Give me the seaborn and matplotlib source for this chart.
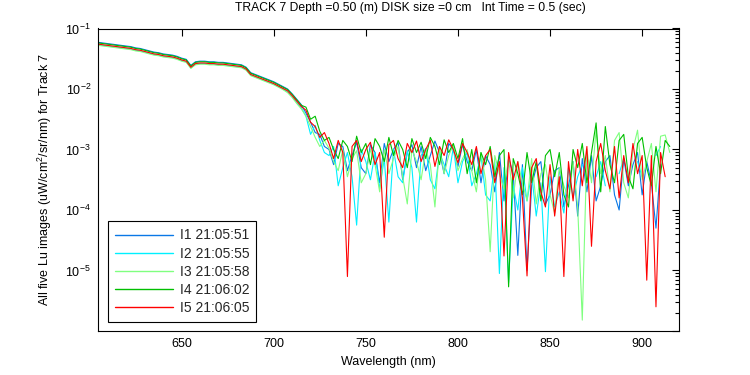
import numpy as np
import pandas as pd
import matplotlib
matplotlib.use("Agg")
import matplotlib.pyplot as plt
from matplotlib.lines import Line2D
from matplotlib.ticker import FixedLocator, LogLocator, NullFormatter, FuncFormatter
import seaborn as sns

# ---------------- data ----------------
wavelength_nm = [
    605.0, 607.5, 610.0, 612.5, 615.0, 617.5, 620.0, 622.5, 625.0, 627.5,
    630.0, 632.5, 635.0, 637.5, 640.0, 642.5, 645.0, 647.5, 650.0, 652.5,
    655.0, 657.5, 660.0, 662.5, 665.0, 667.5, 670.0, 672.5, 675.0, 677.5,
    680.0, 682.5, 685.0, 687.5, 690.0, 692.5, 695.0, 697.5, 700.0, 702.5,
    705.0, 707.5, 710.0, 712.5, 715.0, 717.5, 720.0, 722.5, 725.0, 727.5,
    730.0, 732.5, 735.0, 737.5, 740.0, 742.5, 745.0, 747.5, 750.0, 752.5,
    755.0, 757.5, 760.0, 762.5, 765.0, 767.5, 770.0, 772.5, 775.0, 777.5,
    780.0, 782.5, 785.0, 787.5, 790.0, 792.5, 795.0, 797.5, 800.0, 802.5,
    805.0, 807.5, 810.0, 812.5, 815.0, 817.5, 820.0, 822.5, 825.0, 827.5,
    830.0, 832.5, 835.0, 837.5, 840.0, 842.5, 845.0, 847.5, 850.0, 852.5,
    855.0, 857.5, 860.0, 862.5, 865.0, 867.5, 870.0, 872.5, 875.0, 877.5,
    880.0, 882.5, 885.0, 887.5, 890.0, 892.5, 895.0, 897.5, 900.0, 902.5,
    905.0, 907.5, 910.0, 912.5, 915.0,
]

nan = float("nan")

# log10 of Lu (uW/cm^2/sr/nm), one value per wavelength
i1_log10 = [
    -1.23, -1.24, -1.25, -1.26, -1.27, -1.28, -1.29, -1.30, -1.32, -1.33,
    -1.35, -1.37, -1.39, -1.40, -1.42, -1.43, -1.44, -1.46, -1.49, -1.51,
    -1.61, -1.55, -1.54, -1.54, -1.55, -1.55, -1.56, -1.56, -1.57, -1.58,
    -1.59, -1.60, -1.64, -1.73, -1.76, -1.79, -1.82, -1.85, -1.88, -1.92,
    -1.96, -2.00, -2.08, -2.17, -2.26, -2.40, -2.55, -2.72, -2.75, -2.95,
    -3.00, -3.25, -2.90, -2.95, -3.35, -3.10, -2.88, -3.30, -3.40, -2.92,
    -3.05, -3.55, -2.90, -3.20, -3.00, -2.88, -3.50, -3.05, -2.92, -3.30,
    -2.95, -3.35, -3.10, -2.86, -3.05, -3.40, -2.90, -3.00, -3.28, -2.92,
    -3.20, -3.35, -3.00, -3.55, -3.10, -3.25, -3.70, -3.05, -3.85, -3.15,
    -3.40, -4.75, -3.25, -5.00, -3.60, -3.30, -3.20, -3.90, -3.75, -3.35,
    -3.30, -3.95, -3.60, -3.20, -4.10, -3.15, -3.70, -3.10, -3.85, -3.60,
    -3.20, -3.10, -3.75, -4.00, -3.15, -3.60, -3.25, -3.05, -3.75, -3.20,
    -3.55, -4.30, -3.25, nan, nan,
]
i2_log10 = [
    -1.27, -1.28, -1.29, -1.30, -1.31, -1.32, -1.33, -1.34, -1.36, -1.37,
    -1.39, -1.41, -1.43, -1.44, -1.46, -1.47, -1.48, -1.50, -1.53, -1.55,
    -1.65, -1.59, -1.58, -1.58, -1.59, -1.59, -1.60, -1.60, -1.61, -1.62,
    -1.63, -1.64, -1.68, -1.77, -1.80, -1.83, -1.86, -1.89, -1.92, -1.96,
    -2.00, -2.05, -2.13, -2.22, -2.31, -2.45, -2.75, -2.60, -2.85, -3.05,
    -3.10, -2.95, -3.60, -3.30, -3.05, -3.45, -4.25, -3.00, -3.20, -3.50,
    -3.05, -3.65, -3.15, -4.20, -3.00, -3.45, -3.55, -3.02, -3.30, -4.20,
    -3.10, -2.98, -3.50, -3.65, -3.05, -3.25, -3.45, -2.96, -3.55, -3.20,
    -3.05, -3.60, -3.40, -3.10, -3.75, -3.85, -3.20, -5.05, -3.30, -5.20,
    -3.60, -4.00, -3.30, -3.85, -3.40, -4.10, -3.55, -5.02, -3.45, -3.95,
    -3.70, -4.05, -3.30, -3.80, -3.45, -3.25, nan, nan, -3.45, -3.20,
    -3.60, nan, nan, -3.40, -3.15, nan, nan, -3.20, -3.45, nan,
    nan, -3.10, -2.95, nan, nan,
]
i3_log10 = [
    -1.28, -1.29, -1.30, -1.31, -1.32, -1.33, -1.34, -1.35, -1.37, -1.38,
    -1.40, -1.42, -1.44, -1.45, -1.47, -1.48, -1.49, -1.51, -1.54, -1.56,
    -1.66, -1.60, -1.59, -1.59, -1.60, -1.60, -1.61, -1.61, -1.62, -1.63,
    -1.64, -1.65, -1.69, -1.78, -1.81, -1.84, -1.87, -1.90, -1.93, -1.97,
    -2.01, -2.06, -2.14, -2.24, -2.33, -2.45, -2.62, -2.80, -2.95, -2.85,
    -2.98, -3.20, -3.35, -3.00, -3.45, -3.15, -3.02, -3.55, -3.40, -3.00,
    -3.25, -3.70, -3.00, -3.40, -3.15, -2.95, -3.45, -3.90, -3.00, -3.20,
    -3.50, -3.00, -3.25, -3.95, -2.95, -3.40, -3.10, -2.92, -3.35, -3.15,
    -3.00, -3.35, -3.70, -3.05, -3.50, -4.69, -3.10, -3.40, -3.65, -3.15,
    -3.80, -3.20, -3.55, -3.85, -3.15, -3.90, -3.40, -3.25, -3.75, -4.05,
    -3.30, -3.60, -3.80, -3.20, -3.95, -5.82, -3.00, -3.55, -2.68, -3.40,
    -3.10, -3.70, -2.85, -2.72, -3.55, -3.80, -3.00, -2.68, -3.50, -3.20,
    -2.90, -3.70, -2.78, -2.76, -3.05,
]
i4_log10 = [
    -1.24, -1.25, -1.26, -1.27, -1.28, -1.29, -1.30, -1.31, -1.33, -1.34,
    -1.36, -1.38, -1.40, -1.41, -1.43, -1.44, -1.45, -1.47, -1.50, -1.52,
    -1.62, -1.56, -1.55, -1.55, -1.56, -1.56, -1.57, -1.57, -1.58, -1.59,
    -1.60, -1.61, -1.65, -1.74, -1.77, -1.80, -1.83, -1.86, -1.89, -1.93,
    -1.97, -2.01, -2.09, -2.18, -2.27, -2.30, -2.50, -2.45, -2.70, -2.85,
    -2.80, -3.00, -3.15, -2.85, -2.95, -3.20, -2.78, -3.05, -2.90, -3.25,
    -2.82, -2.95, -3.20, -2.80, -3.10, -2.85, -3.00, -3.30, -2.82, -3.05,
    -2.88, -3.15, -2.80, -2.95, -3.25, -2.84, -3.05, -2.90, -3.15, -2.82,
    -3.40, -3.00, -3.55, -3.05, -3.25, -2.95, -3.45, -3.10, -3.00, -5.27,
    -3.15, -3.40, -3.75, -3.05, -3.55, -3.20, -3.85, -3.10, -3.00, -3.45,
    -3.05, -3.75, -3.95, -3.00, -3.30, -2.90, -3.55, -3.05, -2.56, -3.70,
    -2.62, -3.25, -3.55, -2.85, -2.75, -3.45, -3.65, -2.90, -2.80, -3.30,
    -3.60, -2.95, -3.40, -2.85, -2.95,
]
i5_log10 = [
    -1.26, -1.27, -1.28, -1.29, -1.30, -1.31, -1.32, -1.33, -1.35, -1.36,
    -1.38, -1.40, -1.42, -1.43, -1.45, -1.46, -1.47, -1.49, -1.52, -1.54,
    -1.64, -1.58, -1.57, -1.57, -1.58, -1.58, -1.59, -1.59, -1.60, -1.61,
    -1.62, -1.63, -1.67, -1.76, -1.79, -1.82, -1.85, -1.88, -1.91, -1.95,
    -1.99, -2.03, -2.11, -2.20, -2.29, -2.35, -2.55, -2.62, -2.80, -2.72,
    -2.90, -3.15, -2.85, -3.05, -5.10, -2.95, -2.85, -3.20, -3.00, -2.88,
    -3.25, -3.05, -4.45, -2.92, -2.85, -3.15, -3.30, -2.90, -3.05, -2.86,
    -3.20, -3.00, -2.85, -3.28, -2.95, -3.10, -2.84, -3.00, -3.22, -2.90,
    -3.05, -3.25, -2.95, -3.40, -3.10, -3.00, -3.55, -3.20, -4.76, -3.05,
    -3.50, -3.20, -3.80, -5.09, -3.30, -3.15, -3.70, -3.95, -3.25, -4.10,
    -3.45, -5.10, -3.20, -3.85, -3.00, -3.60, -2.95, -4.60, -3.20, -2.90,
    -3.35, -3.65, -2.95, -3.80, -3.10, -3.55, -2.90, -3.40, -3.10, -5.16,
    -3.10, -5.60, -3.05, -3.45, nan,
]

image_labels = ["I1 21:05:51", "I2 21:05:55", "I3 21:05:58", "I4 21:06:02", "I5 21:06:05"]
image_colors = ["#0a78e6", "#00f0ff", "#80ff80", "#00bf00", "#ff0000"]
series_log10 = [i1_log10, i2_log10, i3_log10, i4_log10, i5_log10]

title_text = "TRACK 7 Depth =0.50 (m) DISK size =0 cm   Int Time = 0.5 (sec)"
x_label = "Wavelength (nm)"
y_label = "All five Lu images (uW/cm$^2$/sr/nm) for Track 7"
x_ticks = [650, 700, 750, 800, 850, 900]
y_decades = [-6, -5, -4, -3, -2, -1]

# ---------------- long table (gaps split lines into segments) ----------------
frames = []
for label, vals in zip(image_labels, series_log10):
    v = np.array(vals, dtype=float)
    seg = np.cumsum(np.isnan(v))
    frames.append(pd.DataFrame({
        "wavelength": wavelength_nm,
        "lu": 10.0 ** v,
        "image": label,
        "segment": seg,
    }))
df = pd.concat(frames, ignore_index=True).dropna()

# ---------------- style ----------------
sns.set_theme(style="white")
plt.rcParams["font.family"] = ["Liberation Sans", "DejaVu Sans"]
plt.rcParams["mathtext.fontset"] = "custom"
plt.rcParams["mathtext.rm"] = "Liberation Sans"
plt.rcParams["mathtext.it"] = "Liberation Sans"
plt.rcParams["axes.edgecolor"] = "black"

fig = plt.figure(figsize=(7.5, 3.75), dpi=100)
fig.patch.set_facecolor("white")
ax = fig.add_axes([98 / 750, 1 - 331 / 375, (679 - 98) / 750, (331 - 28.5) / 375])

sns.lineplot(
    data=df, x="wavelength", y="lu", hue="image", units="segment",
    estimator=None, hue_order=image_labels, palette=image_colors,
    sort=False, legend=False, linewidth=0.8, ax=ax,
)

ax.set_yscale("log")
ax.set_xlim(604.6, 920)
ax.set_ylim(1e-6, 1e-1)
ax.set_xticks(x_ticks)
ax.set_xticklabels([str(t) for t in x_ticks])
ax.yaxis.set_major_locator(FixedLocator([10.0 ** d for d in y_decades]))
ax.yaxis.set_major_formatter(FuncFormatter(
    lambda v, p: "" if v < 2e-6 else r"$10^{%d}$" % int(round(np.log10(v)))))
ax.yaxis.set_minor_locator(LogLocator(base=10, subs=np.arange(2, 10), numticks=30))
ax.yaxis.set_minor_formatter(NullFormatter())
ax.xaxis.set_minor_locator(FixedLocator([]))

ax.tick_params(which="both", direction="in", top=True, right=True,
               colors="black", width=0.8, labelsize=9, pad=5)
ax.tick_params(which="major", length=5)
ax.tick_params(which="minor", length=3)
for s in ax.spines.values():
    s.set_color("black")
    s.set_linewidth(0.8)

fig.text(410 / 750, 1 - 11.5 / 375, title_text, fontsize=8.7,
         ha="center", va="baseline", color="black")
ax.set_xlabel(x_label, fontsize=9, color="black")
ax.set_ylabel(y_label, fontsize=9, color="black")
ax.xaxis.set_label_coords(0.5, -0.083)
ax.yaxis.set_label_coords(-0.075, 0.5)

handles = [Line2D([0], [0], color=c, lw=1.0) for c in image_colors]
leg = ax.legend(handles, image_labels, loc="lower left",
                bbox_to_anchor=(0.0167, 0.0298), borderaxespad=0,
                fontsize=10, frameon=True, fancybox=False, framealpha=1,
                edgecolor="black", handlelength=4.2, handletextpad=0.5,
                labelspacing=0.3, borderpad=0.5)
leg.get_frame().set_linewidth(0.8)

fig.savefig("out.png", dpi=100, facecolor="white")
